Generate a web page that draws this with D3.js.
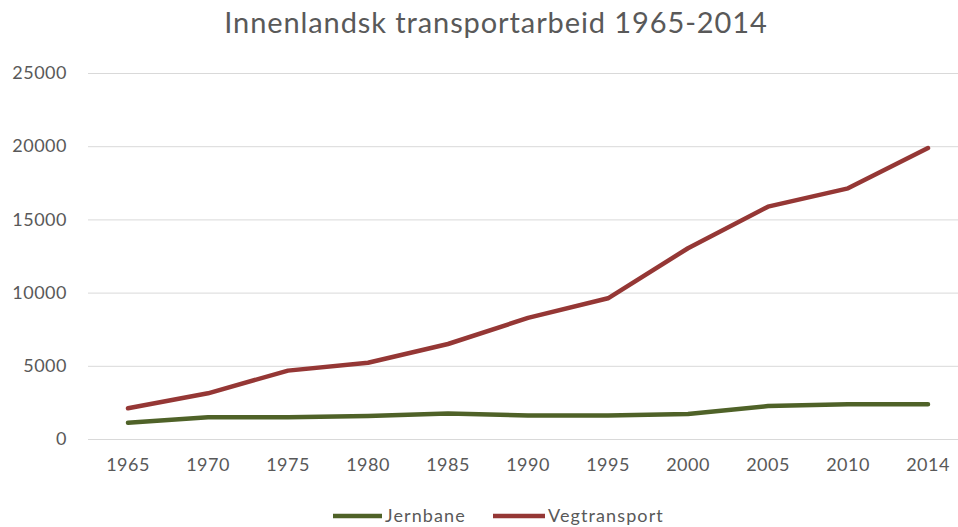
<!DOCTYPE html>
<html><head><meta charset="utf-8">
<script src="https://cdn.jsdelivr.net/npm/d3@7"></script>
<style>body{margin:0;background:#fff}svg{display:block}</style>
</head><body>
<svg id="c" width="958" height="527"></svg>
<script>
const years = ["1965","1970","1975","1980","1985","1990","1995","2000","2005","2010","2014"];
const jernbane = [1110, 1480, 1480, 1570, 1750, 1600, 1600, 1710, 2250, 2370, 2370];
const vegtransport = [2100, 3120, 4670, 5210, 6490, 8270, 9610, 13030, 15870, 17120, 19870];
const yTicks = [0, 5000, 10000, 15000, 20000, 25000];
const seriesNames = ["Jernbane", "Vegtransport"];
const colors = ["#4f6228", "#953735"];

(function () {
const svg = d3.select("#c");
const font = "Lato, 'Open Sans', sans-serif";
const textColor = "#595959";
const pLeft = 88, pRight = 968, pTop = 73, pBottom = 439;

const x = d3.scaleBand().domain(years).range([pLeft, pRight]);
const y = d3.scaleLinear().domain([0, 25000]).range([pBottom, pTop]);

svg.append("text").attr("x", 496).attr("y", 33).attr("text-anchor", "middle")
  .attr("font-family", font).attr("font-size", 29).attr("letter-spacing", 0.9).attr("fill", textColor)
  .text("Innenlandsk transportarbeid 1965-2014");

svg.append("g").selectAll("line").data(yTicks).join("line")
  .attr("x1", pLeft).attr("x2", pRight)
  .attr("y1", d => y(d) + 0.5).attr("y2", d => y(d) + 0.5)
  .attr("stroke", "#d9d9d9").attr("stroke-width", 1);

const yAxis = svg.append("g").attr("transform", `translate(${pLeft},0)`)
  .call(d3.axisLeft(y).tickValues(yTicks).tickSize(0).tickPadding(21).tickFormat(d3.format("d")));
yAxis.select(".domain").remove();
yAxis.selectAll("text").attr("font-family", font).attr("font-size", 18).attr("letter-spacing", 0.5).attr("fill", textColor);

const xAxis = svg.append("g").attr("transform", `translate(0,${pBottom})`)
  .call(d3.axisBottom(x).tickSize(0).tickPadding(19));
xAxis.select(".domain").remove();
xAxis.selectAll("text").attr("font-family", font).attr("font-size", 18).attr("letter-spacing", 0.5).attr("fill", textColor);

const line = d3.line().x((d, i) => x(years[i]) + x.bandwidth() / 2).y(d => y(d));
[jernbane, vegtransport].forEach((s, k) => {
  svg.append("path").datum(s).attr("d", line).attr("fill", "none")
    .attr("stroke", colors[k]).attr("stroke-width", 4.5)
    .attr("stroke-linejoin", "round").attr("stroke-linecap", "round");
});

const legendItems = [{x: 333, w: 49}, {x: 493, w: 52}];
seriesNames.forEach((n, k) => {
  const g = svg.append("g");
  g.append("line").attr("x1", legendItems[k].x).attr("x2", legendItems[k].x + legendItems[k].w)
    .attr("y1", 516).attr("y2", 516).attr("stroke", colors[k]).attr("stroke-width", 4.5);
  g.append("text").attr("x", legendItems[k].x + legendItems[k].w + 3).attr("y", 522)
    .attr("font-family", font).attr("font-size", 18).attr("letter-spacing", 1.1).attr("fill", textColor).text(n);
});
})();
</script>
</body></html>
